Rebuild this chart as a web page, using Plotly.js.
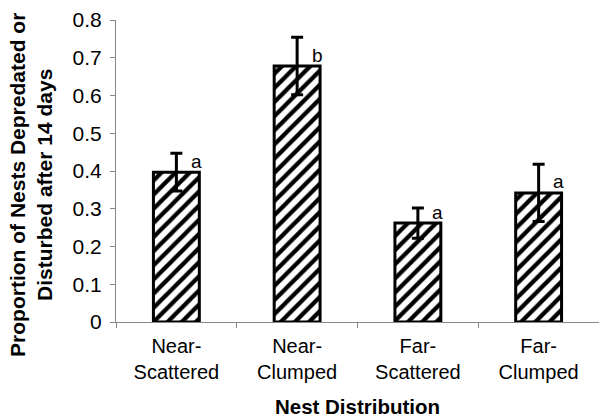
<!DOCTYPE html>
<html>
<head>
<meta charset="utf-8">
<script src="https://cdn.plot.ly/plotly-3.0.1.min.js"></script>
<style>html,body{margin:0;padding:0;background:#fff;}#chart{width:599px;height:418px;}</style>
</head>
<body>
<div id="chart"></div>
<script>
var categories = ["Near-<br>Scattered", "Near-<br>Clumped", "Far-<br>Scattered", "Far-<br>Clumped"];
var proportions = [0.397, 0.678, 0.262, 0.342];
var errors = [0.05, 0.076, 0.04, 0.076];
var letters = ["a", "b", "a", "a"];
var yTicks = [0, 0.1, 0.2, 0.3, 0.4, 0.5, 0.6, 0.7, 0.8];
var yTickLabels = ["0", "0.1", "0.2", "0.3", "0.4", "0.5", "0.6", "0.7", "0.8"];
var yTitle = "Proportion of Nests Depredated or<br>Disturbed after 14 days";
var xTitle = "Nest Distribution";

var FONT = "Liberation Sans, Arial, sans-serif";

var trace = {
  type: "bar",
  x: categories,
  y: proportions,
  width: 0.38,
  marker: {
    color: "#ffffff",
    line: {color: "#000000", width: 3},
    pattern: {shape: "/", fgcolor: "#000000", fgopacity: 1, bgcolor: "#ffffff", size: 10, solidity: 0.42, fillmode: "overlay"}
  },
  error_y: {type: "data", array: errors, visible: true, color: "#000000", thickness: 3, width: 6},
  hoverinfo: "none"
};

var annotations = categories.map(function (c, i) {
  return {
    x: c, y: proportions[i], text: letters[i], showarrow: false,
    xshift: 20, yshift: 11, font: {family: FONT, size: 19, color: "#000"}
  };
});
annotations.push({
  xref: "paper", yref: "paper", x: 0, y: 0.454, xanchor: "center", yanchor: "middle",
  xshift: -85, textangle: -90, showarrow: false, text: yTitle,
  font: {family: FONT, size: 21, color: "#000", weight: "bold"}
});

var layout = {
  width: 599, height: 418,
  margin: {l: 116, r: 0, t: 20, b: 96},
  paper_bgcolor: "#ffffff", plot_bgcolor: "#ffffff",
  showlegend: false,
  font: {family: FONT, size: 20, color: "#000"},
  xaxis: {
    type: "category",
    range: [-0.5, 3.5],
    tickson: "boundaries",
    ticks: "outside", ticklen: 5, tickcolor: "#868686", tickwidth: 1,
    showline: true, linecolor: "#868686", linewidth: 1,
    showgrid: false, zeroline: false,
    ticklabelstandoff: 6,
    tickfont: {family: FONT, size: 20, color: "#000"},
    title: {text: xTitle, font: {family: FONT, size: 20.5, color: "#000", weight: "bold"}, standoff: 22}
  },
  yaxis: {
    range: [0, 0.8],
    tickvals: yTicks, ticktext: yTickLabels,
    ticks: "outside", ticklen: 5, tickcolor: "#868686", tickwidth: 1,
    showline: true, linecolor: "#868686", linewidth: 1,
    showgrid: false, zeroline: false,
    ticklabelstandoff: 4,
    tickfont: {family: FONT, size: 21, color: "#000"}
  },
  annotations: annotations
};

Plotly.newPlot("chart", [trace], layout, {displayModeBar: false, staticPlot: true});
</script>
</body>
</html>
